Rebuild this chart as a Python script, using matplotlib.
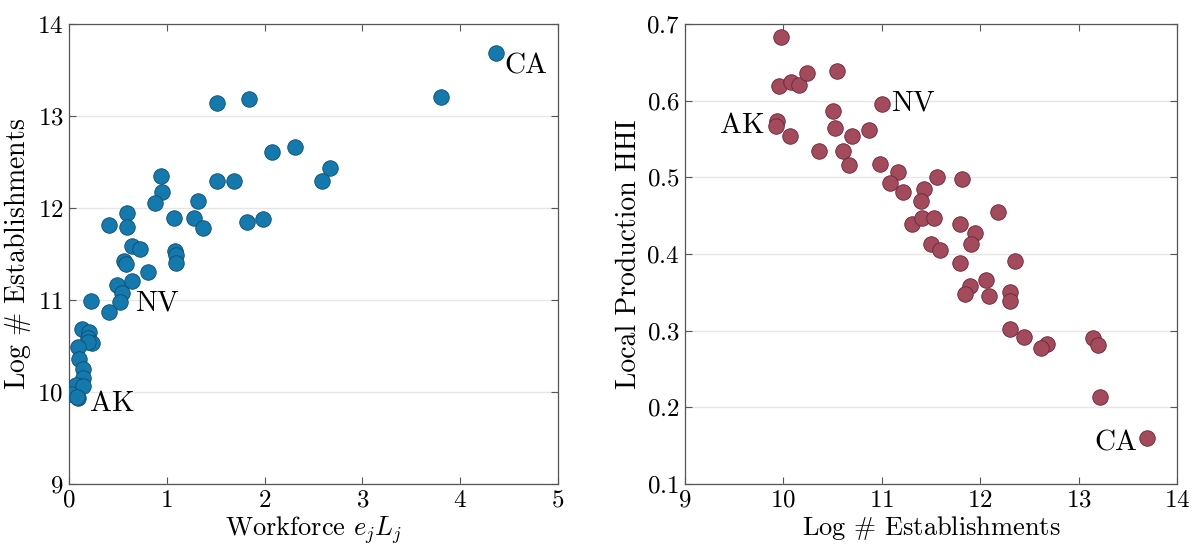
import matplotlib
matplotlib.use("Agg")
import matplotlib.pyplot as plt
import numpy as np

plt.rcParams['font.family'] = 'serif'
plt.rcParams['font.serif'] = ['cmr10']
plt.rcParams['mathtext.fontset'] = 'cm'
plt.rcParams['axes.formatter.use_mathtext'] = True

# Left panel: workforce vs log # establishments
workforce = [4.37, 3.80, 1.51, 1.84,
             2.08, 2.31, 2.67, 2.59, 1.51, 1.69, 0.94, 0.95, 0.88, 1.32,
             1.07, 1.28, 1.37, 1.82, 1.98, 0.41, 0.59, 0.59, 0.645, 0.73,
             0.56, 0.58, 0.81, 1.08, 1.09, 1.09, 0.645,
             0.49, 0.54, 0.52, 0.225, 0.41, 0.13, 0.21, 0.19, 0.235, 0.19,
             0.09, 0.10, 0.14, 0.14, 0.07, 0.14, 0.02, 0.09, 0.08]
log_estab_left = [13.68, 13.21, 13.14, 13.18,
                  12.61, 12.66, 12.43, 12.29, 12.29, 12.29, 12.35, 12.17, 12.05, 12.08,
                  11.89, 11.89, 11.78, 11.85, 11.88, 11.82, 11.95, 11.79, 11.59, 11.55,
                  11.42, 11.39, 11.30, 11.53, 11.49, 11.40, 11.21,
                  11.16, 11.08, 10.98, 10.99, 10.87, 10.68, 10.65, 10.59, 10.53, 10.54,
                  10.49, 10.36, 10.25, 10.15, 10.08, 10.06, 9.98, 9.93, 9.95]
left_labels = {"CA": 0, "NV": 33, "AK": 48}

# Right panel: log # establishments vs local production HHI
log_estab_right = [9.976, 9.955, 10.077, 10.159, 10.240, 10.545, 11.00, 9.935, 9.925, 10.067,
                   10.504, 10.524, 10.697, 10.87, 10.36, 10.606, 10.667, 10.98, 11.165, 11.08,
                   11.215, 11.561, 11.815, 11.43, 11.40, 11.31, 11.41, 11.53, 12.18, 11.795,
                   11.95, 11.91, 11.50, 11.59, 11.795, 12.35, 12.06, 11.90, 11.845, 12.09,
                   12.30, 12.30, 12.30, 12.445, 12.68, 12.62, 13.15, 13.20, 13.22, 13.695]
hhi = [0.683, 0.619, 0.624, 0.620, 0.636, 0.639, 0.596, 0.573, 0.567, 0.554,
       0.587, 0.564, 0.554, 0.562, 0.534, 0.534, 0.516, 0.517, 0.507, 0.493,
       0.481, 0.500, 0.498, 0.485, 0.469, 0.439, 0.447, 0.447, 0.455, 0.439,
       0.427, 0.413, 0.413, 0.405, 0.388, 0.391, 0.366, 0.358, 0.348, 0.345,
       0.350, 0.339, 0.302, 0.292, 0.283, 0.277, 0.290, 0.281, 0.214, 0.160]
right_labels = {"AK": 7, "NV": 6, "CA": 49}

fig = plt.figure(figsize=(11.93, 5.48), dpi=100)
ax1 = fig.add_axes([0.0578, 0.1168, 0.41, 0.8394])
ax2 = fig.add_axes([0.5742, 0.1168, 0.4124, 0.8394])

blue_face, blue_edge = '#1479ad', '#0d4d70'
red_face, red_edge = '#a34b5d', '#6a2535'

def style(ax):
    ax.grid(axis='y', color='#e6e6e6', linewidth=1.0)
    ax.set_axisbelow(True)
    for s in ax.spines.values():
        s.set_color('#555555')
        s.set_linewidth(0.9)
    ax.tick_params(direction='in', top=True, right=True, length=5,
                   color='#555555', labelsize=18, pad=4)

ax1.scatter(workforce, log_estab_left, s=125, c=blue_face, edgecolors=blue_edge,
            linewidths=0.6, zorder=3)
ax1.set_xlim(0, 5)
ax1.set_ylim(9, 14)
ax1.set_xticks([0, 1, 2, 3, 4, 5])
ax1.set_yticks([9, 10, 11, 12, 13, 14])
ax1.set_xlabel(r'Workforce $e_jL_j$', fontsize=19, labelpad=2)
ax1.set_ylabel(r'Log $\#$ Establishments', fontsize=20, labelpad=3)
style(ax1)

left_offsets = {"CA": (6, -9, 'left'), "NV": (11, -1, 'left'), "AK": (9, -4, 'left')}
for name, i in left_labels.items():
    dx, dy, ha = left_offsets[name]
    ax1.annotate(name, (workforce[i], log_estab_left[i]), xytext=(dx, dy),
                 textcoords='offset points', ha=ha, va='center', fontsize=21)

ax2.scatter(log_estab_right, hhi, s=125, c=red_face, edgecolors=red_edge,
            linewidths=0.6, zorder=3)
ax2.set_xlim(9, 14)
ax2.set_ylim(0.1, 0.7)
ax2.set_xticks([9, 10, 11, 12, 13, 14])
ax2.set_yticks([0.1, 0.2, 0.3, 0.4, 0.5, 0.6, 0.7])
ax2.set_xlabel(r'Log $\#$ Establishments', fontsize=19, labelpad=2)
ax2.set_ylabel('Local Production HHI', fontsize=20, labelpad=3)
style(ax2)

right_offsets = {"AK": (-9, -3, 'right'), "NV": (7, 0, 'left'), "CA": (-7, -4, 'right')}
for name, i in right_labels.items():
    dx, dy, ha = right_offsets[name]
    ax2.annotate(name, (log_estab_right[i], hhi[i]), xytext=(dx, dy),
                 textcoords='offset points', ha=ha, va='center', fontsize=21)

fig.savefig('out.png', dpi=100)
